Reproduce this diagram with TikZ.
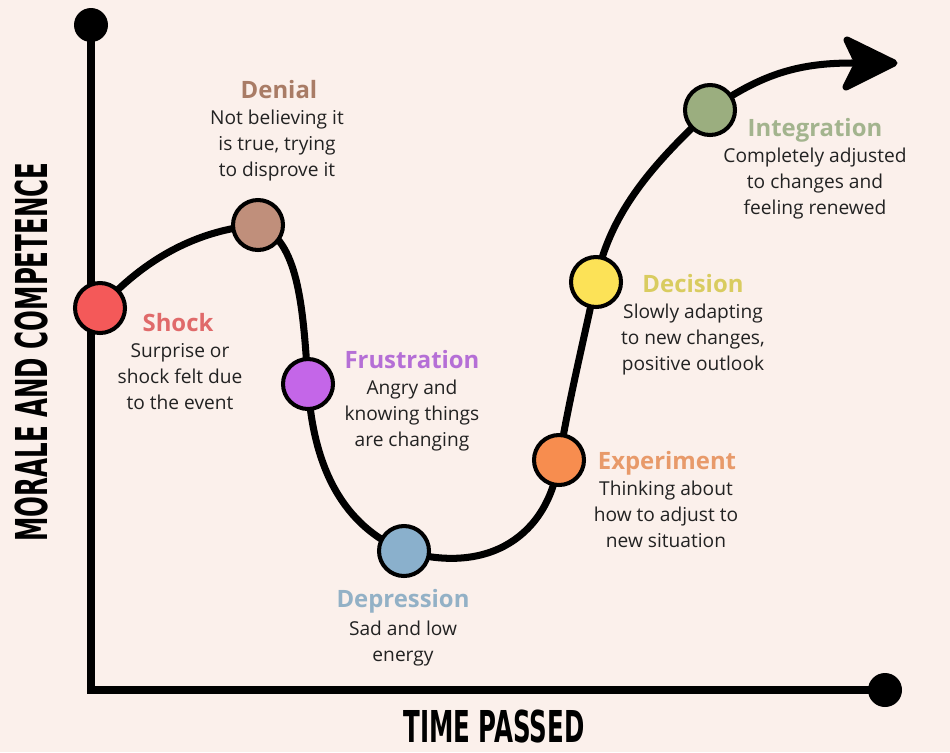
\documentclass[tikz,border=0pt]{standalone}
\usepackage{fontspec}
\setmainfont{Open Sans}
\newfontfamily\axisfont[FakeStretch=0.62]{DejaVu Sans Condensed}

\definecolor{paper}{HTML}{FBF0EB}
\definecolor{ink}{HTML}{222222}
\definecolor{shockfill}{HTML}{F45959}
\definecolor{shocktext}{HTML}{E06A6A}
\definecolor{denialfill}{HTML}{C08F7B}
\definecolor{denialtext}{HTML}{A97C66}
\definecolor{frustfill}{HTML}{C466E8}
\definecolor{frusttext}{HTML}{B56FD6}
\definecolor{depressfill}{HTML}{8AB0CC}
\definecolor{depresstext}{HTML}{93B1C6}
\definecolor{experfill}{HTML}{F78D4F}
\definecolor{expertext}{HTML}{E89A6A}
\definecolor{decisfill}{HTML}{FCE257}
\definecolor{decistext}{HTML}{D9CC60}
\definecolor{integfill}{HTML}{9BAE7F}
\definecolor{integtext}{HTML}{A3B48E}

\tikzset{
  stage/.style={circle, draw=black, line width=2.3pt, minimum size=1cm, inner sep=0pt},
  axisdot/.style={circle, fill=black, inner sep=0pt, minimum size=0.68cm},
  heading/.style={font=\bfseries\fontsize{13.6}{16}\selectfont, inner sep=0pt, anchor=base},
  blurb/.style={align=center, font=\fontsize{10.9}{14.8}\selectfont, text=ink, inner sep=0pt, anchor=north},
  axislabel/.style={font=\axisfont\bfseries\fontsize{25}{25}\selectfont, inner sep=0pt},
  curve/.style={line width=4pt, line cap=round}
}

\begin{document}
\begin{tikzpicture}[x=0.02cm, y=-0.02cm]
\fill[paper] (0,0) rectangle (950,752);
\useasboundingbox (0,0) rectangle (950,752);

\node[axisdot] (ytop) at (91,25) {};
\node[axisdot] (xend) at (885,690) {};
\coordinate (origin) at (91,690);
\draw[line width=5pt] (ytop.center) -- (origin) -- (xend.center);

\coordinate (s) at (100,308);
\coordinate (d) at (258,225);
\coordinate (f) at (308,384);
\coordinate (p) at (404,551);
\coordinate (e) at (559,460);
\coordinate (c) at (596,282);
\coordinate (i) at (710,110);
\coordinate (lineend) at (852,63);

\draw[curve]
  (s) .. controls +(45,-50) and +(-60,5) .. (d)
      .. controls +(40,15) and +(-5,-80) .. (f)
      .. controls +(5,85) and +(-60,-25) .. (p)
      .. controls +(85,25) and +(-10,75) .. (e)
      .. controls +(10,-60) and +(-15,70) .. (c)
      .. controls +(15,-80) and +(-40,40) .. (i)
      .. controls +(50,-35) and +(-55,0) .. (lineend);
\filldraw[line width=4pt, line join=round]
  (847,40) -- (894,63) -- (846,87) -- (858,63) -- cycle;

\node[stage, fill=shockfill] (shock) at (s) {};
\node[stage, fill=denialfill] (denial) at (d) {};
\node[stage, fill=frustfill] (frustration) at (f) {};
\node[stage, fill=depressfill] (depression) at (p) {};
\node[stage, fill=experfill] (experiment) at (e) {};
\node[stage, fill=decisfill] (decision) at (c) {};
\node[stage, fill=integfill] (integration) at (i) {};

\node[heading, text=shocktext] (shocktitle) at (178,331) {Shock};
\node[blurb] (shockbody) at (180,343) {Surprise or\\shock felt due\\to the event};
\node[heading, text=denialtext] (denialtitle) at (279,98) {Denial};
\node[blurb] (denialbody) at (277,110) {Not believing it\\is true, trying\\to disprove it};
\node[heading, text=frusttext] (frusttitle) at (412,368) {Frustration};
\node[blurb] (frustbody) at (412,380) {Angry and\\knowing things\\are changing};
\node[heading, text=depresstext] (depresstitle) at (403,607) {Depression};
\node[blurb] (depressbody) at (403,621) {Sad and low\\energy};
\node[heading, text=expertext] (expertitle) at (667,469) {Experiment};
\node[blurb] (experbody) at (666,481) {Thinking about\\how to adjust to\\new situation};
\node[heading, text=decistext] (decistitle) at (693,292) {Decision};
\node[blurb] (decisbody) at (693,304) {Slowly adapting\\to new changes,\\positive outlook};
\node[heading, text=integtext] (integtitle) at (815,136) {Integration};
\node[blurb] (integbody) at (815,148) {Completely adjusted\\to changes and\\feeling renewed};

\node[axislabel] (timelabel) at (494,726) {TIME PASSED};
\node[axislabel, rotate=90] (moralelabel) at (32,352) {MORALE AND COMPETENCE};
\end{tikzpicture}
\end{document}
